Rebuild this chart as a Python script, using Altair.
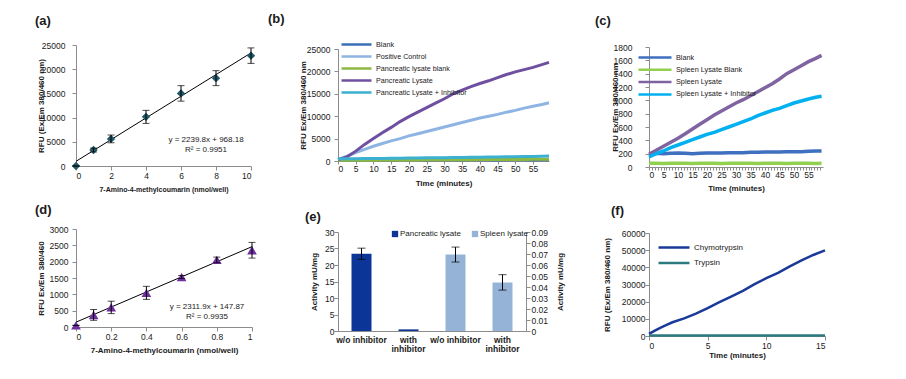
import altair as alt
import pandas as pd

FONT = "Liberation Sans"
GRAY = "#8C8C8C"
TXT = "#1A1A1A"

# ---------------- (a) AMC standard curve ----------------
a_x = [0, 1, 2, 4, 6, 8, 10]
a_y = [0, 3300, 5600, 10150, 15000, 18150, 22800]
a_err = [0, 400, 800, 1350, 1600, 1550, 1600]
a_fit = [2239.8, 968.18]
a_fit_x = [0, 10]
a_text = ["y = 2239.8x + 968.18", "R² = 0.9951"]
a_xticks = [0, 2, 4, 6, 8, 10]
a_yticks = [0, 5000, 10000, 15000, 20000, 25000]

# ---------------- (b) pancreatic kinetics ----------------
t_60 = [0, 2.5, 5, 7.5, 10, 12.5, 15, 17.5, 20, 22.5, 25, 27.5, 30, 32.5,
        35, 37.5, 40, 42.5, 45, 47.5, 50, 52.5, 55, 57.5, 59.5]
b_names = ["Blank", "Positive Control", "Pancreatic lysate blank",
           "Pancreatic Lysate", "Pancreatic Lysate + Inhibitor"]
b_colors = ["#3A6FB5", "#8EB4E3", "#8DB840", "#6F4FA0", "#3BB0D0"]
b_blank = [260, 250, 255, 250, 260, 255, 250, 260, 255, 260, 250, 255, 260,
           255, 250, 260, 255, 260, 250, 255, 260, 255, 250, 260, 255]
b_pos = [300, 1100, 1900, 2600, 3300, 3900, 4500, 5000, 5600, 6100, 6600, 7100,
         7600, 8100, 8600, 9100, 9600, 10000, 10400, 10900, 11300, 11800,
         12200, 12600, 13000]
b_pan_blank = [150, 160, 175, 180, 195, 200, 210, 225, 230, 240, 255, 260, 270,
               285, 290, 300, 315, 320, 330, 345, 350, 360, 375, 380, 390]
b_pan = [300, 900, 2200, 3700, 5000, 6300, 7500, 8800, 9900, 10900, 11900,
         12900, 13900, 15000, 15800, 16600, 17300, 17900, 18600, 19300, 19900,
         20400, 20900, 21500, 22000]
b_pan_inh = [500, 510, 530, 540, 560, 580, 600, 620, 650, 670, 700, 720, 750,
             770, 800, 820, 850, 880, 900, 930, 960, 990, 1020, 1060, 1100]
b_series = [b_blank, b_pos, b_pan_blank, b_pan, b_pan_inh]
b_yticks = [0, 5000, 10000, 15000, 20000, 25000]
b_xticks = [0, 5, 10, 15, 20, 25, 30, 35, 40, 45, 50, 55]

# ---------------- (c) spleen kinetics ----------------
c_names = ["Blank", "Spleen Lysate Blank", "Spleen Lysate", "Spleen Lysate + Inhibitor"]
c_colors = ["#3F6FBF", "#92D050", "#8064A2", "#00B0F0"]
c_blank = [200, 205, 200, 205, 210, 205, 200, 205, 210, 210, 210, 215, 215,
           215, 220, 220, 225, 225, 225, 230, 230, 230, 235, 240, 240]
c_sp_blank = [55, 56, 54, 55, 56, 55, 54, 55, 56, 55, 54, 55, 56, 55, 55, 54,
              55, 56, 55, 54, 55, 56, 55, 54, 55]
c_sp = [190, 250, 310, 370, 430, 500, 570, 640, 710, 780, 840, 900, 960, 1010,
        1070, 1130, 1190, 1250, 1320, 1400, 1460, 1520, 1580, 1630, 1675]
c_sp_inh = [150, 200, 240, 290, 330, 370, 410, 450, 490, 520, 560, 600, 640,
            680, 720, 770, 810, 850, 880, 920, 960, 990, 1020, 1045, 1060]
c_series = [c_blank, c_sp_blank, c_sp, c_sp_inh]
c_yticks = [0, 200, 400, 600, 800, 1000, 1200, 1400, 1600, 1800]

# ---------------- (d) AMC standard curve (low range) ----------------
d_x = [0, 0.1, 0.2, 0.4, 0.6, 0.8, 1.0]
d_y = [50, 370, 600, 1045, 1530, 2055, 2350]
d_err = [0, 165, 190, 200, 45, 85, 240]
d_fit = [2311.9, 147.87]
d_fit_x = [0, 1]
d_text = ["y = 2311.9x + 147.87", "R² = 0.9935"]
d_xticks = [0, 0.2, 0.4, 0.6, 0.8, 1]
d_yticks = [0, 500, 1000, 1500, 2000, 2500, 3000]

# ---------------- (e) activity bars ----------------
e_ticklabels = ["w/o inhibitor", "with\ninhibitor", "w/o inhibitor", "with\ninhibitor"]
e_groups = ["Pancreatic lysate", "Spleen lysate"]
e_colors = ["#0B3697", "#95B3D7"]
e_pan = [23.4, 0.5]          # left axis
e_pan_err = [1.7, 0.0]
e_spl = [0.0695, 0.0442]     # right axis
e_spl_err = [0.0068, 0.0070]
e_lticks = [0, 5, 10, 15, 20, 25, 30]
e_rticks = [0, 0.01, 0.02, 0.03, 0.04, 0.05, 0.06, 0.07, 0.08, 0.09]

# ---------------- (f) chymotrypsin vs trypsin ----------------
f_t = [0, 0.5, 1, 1.5, 2, 3, 4, 5, 6, 7, 8, 9, 10, 11, 12, 13, 14, 15]
f_names = ["Chymotrypsin", "Trypsin"]
f_colors = ["#1A3A9A", "#2C7A80"]
f_chymo = [1200, 3100, 4900, 6500, 8000, 10300, 13000, 16200, 19700, 23000,
           26300, 30200, 33700, 36800, 40500, 44000, 47200, 49900]
f_tryp = [250, 240, 250, 230, 240, 250, 240, 230, 250, 240, 250, 240, 230,
          250, 240, 250, 240, 250]
f_yticks = [0, 10000, 20000, 30000, 40000, 50000, 60000]
f_xticks = [0, 5, 10, 15]

ONE = alt.Data(values=[{"k": 0}])


def yaxis(values, title, pad, tx, fmt="d", tick=4, tsize=8, orient="left", angle=270):
    return alt.Axis(values=values, format=fmt, title=title, orient=orient,
                    labelPadding=pad, tickSize=tick, titleX=tx,
                    titleBaseline="middle", titleAngle=angle, titleFontSize=tsize)


def xaxis(values, title, pad, ty, fmt="d", tick=4, tsize=8, **kw):
    return alt.Axis(values=values, format=fmt, title=title, labelPadding=pad,
                    tickSize=tick, titleY=ty, titleBaseline="middle",
                    titleFontSize=tsize, labelAngle=0, **kw)


def note(txt, dx, dy, size=8, weight="normal", align="center"):
    return alt.Chart(ONE).mark_text(
        align=align, baseline="middle", fontSize=size, fontWeight=weight,
        font=FONT, color=TXT
    ).encode(x=alt.value(dx), y=alt.value(dy), text=alt.value(txt))


def letter(txt, dx, dy):
    return note(txt, dx, dy, size=13, weight="bold", align="left")


def scatter_panel(xs, ys, errs, fit, fit_x, texts, xdom, xrange_, ydom, yrange_,
                  xa, ya, shape, msize, mcolor, lab, lab_xy, txt_xy):
    df = pd.DataFrame({"x": xs, "y": ys,
                       "lo": [v - e for v, e in zip(ys, errs)],
                       "hi": [v + e for v, e in zip(ys, errs)]})
    fdf = pd.DataFrame({"x": fit_x, "y": [fit[0] * v + fit[1] for v in fit_x]})
    xsc = alt.Scale(domain=xdom, range=xrange_, nice=False, zero=False)
    ysc = alt.Scale(domain=ydom, range=yrange_, nice=False)
    X = alt.X("x:Q", scale=xsc, axis=xa)
    fitl = alt.Chart(fdf).mark_line(color="#000", strokeWidth=1).encode(
        x=X, y=alt.Y("y:Q", scale=ysc, axis=ya))
    pts = alt.Chart(df).mark_point(shape=shape, filled=True, size=msize,
                                   color=mcolor, opacity=1).encode(
        x=X, y=alt.Y("y:Q", scale=ysc, axis=ya))
    eb = alt.Chart(df).mark_rule(color="#000", strokeWidth=1).encode(
        x=X, y=alt.Y("lo:Q", scale=ysc, axis=ya), y2="hi:Q")
    tlo = alt.Chart(df).mark_tick(orient="horizontal", size=7, thickness=1,
                                  color="#000").encode(
        x=X, y=alt.Y("lo:Q", scale=ysc, axis=ya))
    thi = alt.Chart(df).mark_tick(orient="horizontal", size=7, thickness=1,
                                  color="#000").encode(
        x=X, y=alt.Y("hi:Q", scale=ysc, axis=ya))
    return alt.layer(fitl, pts, eb, tlo, thi,
                     note(texts[0], txt_xy[0], txt_xy[1]),
                     note(texts[1], txt_xy[0], txt_xy[1] + 10),
                     letter(lab, lab_xy[0], lab_xy[1]))


def long_df(times, names, series):
    rows = []
    for n, s in zip(names, series):
        for t, v in zip(times, s):
            rows.append({"t": t, "v": v, "s": n})
    return pd.DataFrame(rows)


def line_panel(df, names, colors, xdom, xrange_, ydom, yrange_, xa, ya, sw,
               leg, lab, lab_xy):
    return alt.layer(
        alt.Chart(df).mark_line(strokeWidth=sw).encode(
            x=alt.X("t:Q", scale=alt.Scale(domain=xdom, range=xrange_, nice=False), axis=xa),
            y=alt.Y("v:Q", scale=alt.Scale(domain=ydom, range=yrange_, nice=False), axis=ya),
            color=alt.Color("s:N", scale=alt.Scale(domain=names, range=colors),
                            sort=names, legend=leg),
            order=alt.Order("si:Q"),
        ).transform_calculate(si="indexof(" + str(names) + ", datum.s)"),
        letter(lab, lab_xy[0], lab_xy[1]),
    )


def line_legend(x0, y0, size, row_pad, sym_len, r=3.0):
    # a long horizontal stroke drawn as a custom symbol path on a small symbol box
    half = sym_len / 2.0
    path = "M-%.3f,0H%.3f" % (half / r, half / r)
    return alt.Legend(orient="none", legendX=x0 - r + half, legendY=y0, title=None,
                      symbolType=path, symbolSize=(2 * r) ** 2,
                      symbolStrokeWidth=2.5, labelFontSize=size,
                      rowPadding=row_pad, labelOffset=half + 3 - r, padding=0)


# ---------- panel (a) ----------
pa = scatter_panel(
    a_x, a_y, a_err, a_fit, a_fit_x, a_text, [0, 10], [0, 175], [0, 25000], [121, 0],
    xaxis(a_xticks, "7-Amino-4-methylcoumarin (nmol/well)", 1, 23, tsize=7),
    yaxis(a_yticks, "RFU (Ex/Em 380/460 nm)", 7, -35),
    "diamond", 70, "#215968", "(a)", (-41, -24), (130, 95)
).properties(width=176, height=121)

# ---------- panel (b) ----------
pb = line_panel(
    long_df(t_60, b_names, b_series), b_names, b_colors, [0, 59.5], [0, 211],
    [0, 25000], [116, 4],
    xaxis(b_xticks, "Time (minutes)", 0, 22, tick=3),
    yaxis(b_yticks, "RFU Ex/Em 380/460 nm", 4, -35),
    3, line_legend(2, -5, 7.2, 1, 30), "(b)", (-70, -26)
).properties(width=211, height=116)

# ---------- panel (c) ----------
c_minor = list(range(0, 60))
pc = line_panel(
    long_df(t_60, c_names, c_series), c_names, c_colors, [0, 60], [0, 174],
    [0, 1800], [122, 2],
    alt.Axis(values=c_minor, format="d", title="Time (minutes)", labelPadding=0,
             tickSize=3, titleY=21, titleBaseline="middle", titleFontSize=8,
             labelAngle=0,
             labelExpr="datum.value % 5 === 0 ? datum.label : ''"),
    yaxis(c_yticks, "RFU Ex/Em 380/460 nm", 13, -34),
    3.5, line_legend(-12, 8, 7.3, 1.3, 33), "(c)", (-54, -24)
).properties(width=174, height=122)

# ---------- panel (d) ----------
pd_ = scatter_panel(
    d_x, d_y, d_err, d_fit, d_fit_x, d_text, [0, 1], [0, 176], [0, 3000], [98, 0],
    xaxis(d_xticks, "7-Amino-4-methylcoumarin (nmol/well)", 1, 23, fmt="~g"),
    yaxis(d_yticks, "RFU Ex/Em 380/460", 4, -35),
    "triangle-up", 95, "#7030A0", "(d)", (-41, -19), (131, 78)
).properties(width=176, height=98)

# ---------- panel (e) ----------
lab_js = "[" + ",".join("'" + s.replace("\n", "\\n") + "'" for s in e_ticklabels) + "]"
EX = alt.X("idx:O", scale=alt.Scale(domain=[0, 1, 2, 3]),
           axis=alt.Axis(title=None, ticks=False, labelAngle=0, labelPadding=4,
                         labelFontWeight="bold", labelLineHeight=9,
                         labelExpr="split(" + lab_js + "[datum.value], '\\n')"))
e_leg = alt.Legend(orient="none", legendX=53, legendY=1, direction="horizontal",
                   title=None, symbolType="square", symbolSize=40,
                   labelFontSize=8, labelOffset=1, columnPadding=10, padding=0,
                   symbolStrokeWidth=0)
ECOL = alt.Color("g:N", scale=alt.Scale(domain=e_groups, range=e_colors), legend=e_leg)

e_left = pd.DataFrame({"idx": [0, 1], "g": [e_groups[0]] * 2, "v": e_pan,
                       "lo": [v - e for v, e in zip(e_pan, e_pan_err)],
                       "hi": [v + e for v, e in zip(e_pan, e_pan_err)]})
e_right = pd.DataFrame({"idx": [2, 3], "g": [e_groups[1]] * 2, "v": e_spl,
                        "lo": [v - e for v, e in zip(e_spl, e_spl_err)],
                        "hi": [v + e for v, e in zip(e_spl, e_spl_err)]})


def bar_group(df, dom, ax):
    sc = alt.Scale(domain=dom, range=[102, 3], nice=False)
    bars = alt.Chart(df).mark_bar(size=20).encode(
        x=EX, y=alt.Y("v:Q", scale=sc, axis=ax), color=ECOL)
    err_df = df[df["hi"] > df["lo"]]
    rule = alt.Chart(err_df).mark_rule(color="#000", strokeWidth=1).encode(
        x=EX, y=alt.Y("lo:Q", scale=sc, axis=ax), y2="hi:Q")
    t1 = alt.Chart(err_df).mark_tick(orient="horizontal", size=8, thickness=1,
                                     color="#000").encode(
        x=EX, y=alt.Y("lo:Q", scale=sc, axis=ax))
    t2 = alt.Chart(err_df).mark_tick(orient="horizontal", size=8, thickness=1,
                                     color="#000").encode(
        x=EX, y=alt.Y("hi:Q", scale=sc, axis=ax))
    return alt.layer(bars, rule, t1, t2)


pe = alt.layer(
    bar_group(e_left, [0, 30], yaxis(e_lticks, "Activity mU/mg", 0, -24)),
    bar_group(e_right, [0, 0.09],
              yaxis(e_rticks, "Activity mU/mg", 1, 34, fmt=".2~f", orient="right")),
    letter("(e)", -33, -12),
).resolve_scale(y="independent").properties(width=188, height=102)

# ---------- panel (f) ----------
pf = line_panel(
    long_df(f_t, f_names, [f_chymo, f_tryp]), f_names, f_colors, [0, 15], [0, 176],
    [0, 60000], [107, 4],
    xaxis(f_xticks, "Time (minutes)", 1, 19),
    yaxis(f_yticks, "RFU (Ex/Em 380/460 nm)", 0, -42),
    2.5, line_legend(8, 14, 8, 4.5, 31), "(f)", (-38, -18)
).properties(width=176, height=107)


def spacer(w):
    return alt.Chart(ONE).mark_point(opacity=0).encode(
        x=alt.value(0), y=alt.value(0)).properties(width=w, height=1)


chart = alt.concat(
    pa, spacer(86), pb, spacer(100), pc,
    pd_, spacer(86), pe, spacer(100), pf,
    columns=5, spacing={"row": 62, "column": 0}, bounds="flush", align="each",
).resolve_scale(
    x="independent", y="independent", color="independent"
).properties(
    padding={"left": 27, "top": 5, "right": 5, "bottom": 5},
    background="white",
).configure_view(stroke=None).configure_axis(
    grid=False, domainColor=GRAY, tickColor=GRAY, labelFont=FONT,
    titleFont=FONT, labelFontSize=8.5, labelColor=TXT, titleColor=TXT,
    titleFontWeight="bold", labelOverlap=False,
).configure_legend(labelFont=FONT, labelColor=TXT)

chart.save("out.html", embed_options={"renderer": "svg", "actions": False})
